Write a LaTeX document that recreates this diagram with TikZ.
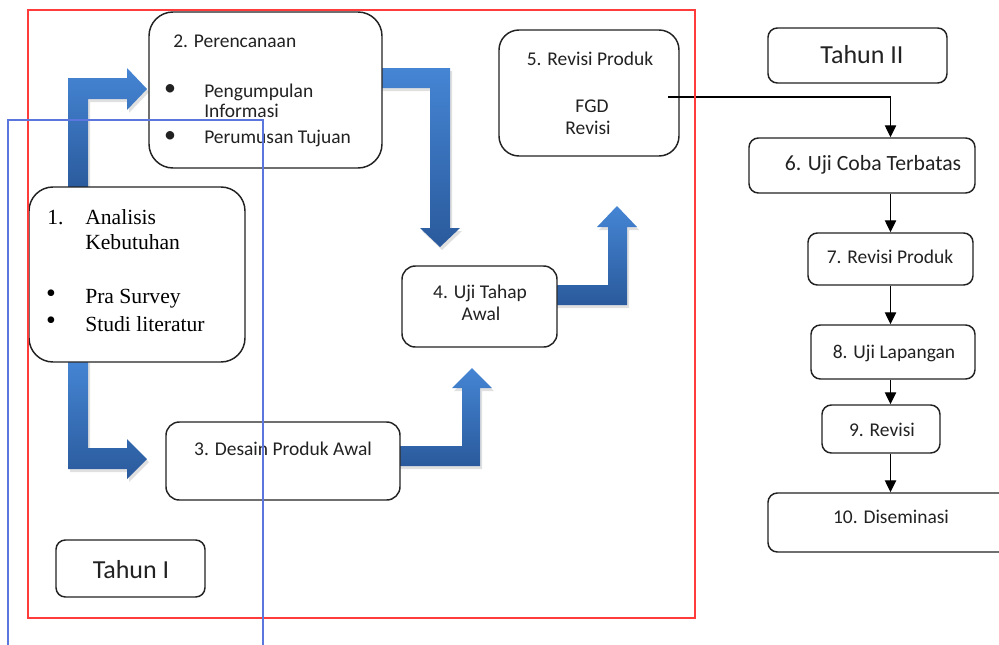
\documentclass[tikz,border=0pt]{standalone}
\usepackage{fontspec}
\setmainfont{Carlito}
\newfontfamily\seriffont{Liberation Serif}
\usetikzlibrary{fit,arrows.meta}
\definecolor{redline}{HTML}{FF3B3B}
\definecolor{blueline}{HTML}{5B77DD}
\definecolor{arrowtop}{HTML}{4585D4}
\definecolor{arrowbot}{HTML}{2A5A9C}
\definecolor{ink}{HTML}{222222}
\begin{document}
\begin{tikzpicture}[x=0.75pt,y=-0.75pt,
  box/.style={draw=ink, line width=1.1pt, fill=white, inner sep=0pt, rounded corners=#1},
  box/.default=8pt,
  txt/.style={inner sep=0pt, anchor=base, text=ink, font=\fontsize{14.6}{15}\selectfont},
  txtw/.style={txt, anchor=base west},
  big/.style={txt, font=\fontsize{19.5}{20}\selectfont},
  ser/.style={inner sep=0pt, anchor=base west, text=black, font=\seriffont\fontsize{16.2}{18}\selectfont},
  sbul/.style={inner sep=0pt, anchor=center, text=black, font=\seriffont\fontsize{21}{21}\selectfont},
  blk/.style={top color=arrowtop, bottom color=arrowbot},
  shadow/.style={fill=black, opacity=0.12},
  conn/.style={draw=black, line width=1pt, -{Triangle[length=9pt,width=8.5pt]}}
]
\useasboundingbox (0,0) rectangle (999,644);

% shadows of block arrows
\begin{scope}[shift={(2,3)}]
\fill[shadow] (68,190)--(68,78)--(127,78)--(127,68)--(147,89)--(127,110)--(127,99)--(88,99)--(88,190)--cycle;
\fill[shadow] (68,360)--(68,469)--(127,469)--(127,479)--(147,459)--(127,439)--(127,448)--(88,448)--(88,360)--cycle;
\fill[shadow] (380,68)--(450,68)--(450,228)--(460,228)--(440,247)--(420,228)--(430,228)--(430,88)--(380,88)--cycle;
\fill[shadow] (398,446)--(462,446)--(462,388)--(452,388)--(472,368)--(492,388)--(480,388)--(480,466)--(398,466)--cycle;
\fill[shadow] (555,285)--(608,285)--(608,227)--(597,227)--(617,206)--(637,227)--(627,227)--(627,305)--(555,305)--cycle;
\end{scope}
% block arrows
\shade[blk] (68,190)--(68,78)--(127,78)--(127,68)--(147,89)--(127,110)--(127,99)--(88,99)--(88,190)--cycle;
\shade[blk] (68,360)--(68,469)--(127,469)--(127,479)--(147,459)--(127,439)--(127,448)--(88,448)--(88,360)--cycle;
\shade[blk] (380,68)--(450,68)--(450,228)--(460,228)--(440,247)--(420,228)--(430,228)--(430,88)--(380,88)--cycle;
\shade[blk] (398,446)--(462,446)--(462,388)--(452,388)--(472,368)--(492,388)--(480,388)--(480,466)--(398,466)--cycle;
\shade[blk] (555,285)--(608,285)--(608,227)--(597,227)--(617,206)--(637,227)--(627,227)--(627,305)--(555,305)--cycle;

% boxes
\node[box=18pt, fit={(29,187) (245,362)}] (b1) {};
\node[box=18pt, fit={(149,12) (382,168)}] (b2) {};
\node[box=10pt, fit={(166,422) (400,500)}] (b3) {};
\node[box=10pt, fit={(402,266) (557,347)}] (b4) {};
\node[box=15pt, fit={(499,30) (679,156)}] (b5) {};
\node[box=7pt, fit={(56,540) (205,597)}] (t1) {};
\node[box=7pt, fit={(768,28) (947,83)}] (t2) {};
\node[box=7pt, fit={(749,138) (975,193)}] (b6) {};
\node[box=7pt, fit={(808,233) (973,285)}] (b7) {};
\node[box=7pt, fit={(811,325) (975,379)}] (b8) {};
\node[box=7pt, fit={(822,405) (940,453)}] (b9) {};
\node[box=7pt, fit={(768,493) (1012,552)}] (b10) {};

% texts box 1
\node[ser] (l1n) at (47,224) {1.};
\node[ser] (l1a) at (85,224) {Analisis};
\node[ser] (l1b) at (85,249) {Kebutuhan};
\node[sbul] (l1d1) at (51,296) {•};
\node[ser] (l1c) at (85,303) {Pra Survey};
\node[sbul] (l1d2) at (51,323) {•};
\node[ser] (l1e) at (85,331) {Studi literatur};

% texts box 2
\node[txtw] (l2a) at (173,47) {2. Perencanaan};
\node[txt, anchor=center, font=\fontsize{18}{18}\selectfont] (l2d1) at (170,90) {•};
\node[txtw] (l2b) at (204,97) {Pengumpulan};
\node[txtw] (l2c) at (204,117) {Informasi};
\node[txt, anchor=center, font=\fontsize{18}{18}\selectfont] (l2d2) at (170,137) {•};
\node[txtw] (l2e) at (204,143) {Perumusan Tujuan};

% other texts
\node[txt] (l3) at (283,455) {3. Desain Produk Awal};
\node[txt] (l4a) at (480,298) {4. Uji Tahap};
\node[txt] (l4b) at (481,320) {Awal};
\node[txt] (l5a) at (590,65) {5. Revisi Produk};
\node[txt] (l5b) at (592,112) {FGD};
\node[txt] (l5c) at (588,134) {Revisi};
\node[big] (lt1) at (131,578) {Tahun I};
\node[big] (lt2) at (862,63) {Tahun II};
\node[txt, font=\fontsize{16.3}{17}\selectfont] (l6) at (873,170) {6. Uji Coba Terbatas};
\node[txt] (l7) at (890,263) {7. Revisi Produk};
\node[txt] (l8) at (894,358) {8. Uji Lapangan};
\node[txt] (l9) at (882,436) {9. Revisi};
\node[txt] (l10) at (891,523) {10. Diseminasi};

% connectors
\coordinate (c5) at (668,97);
\draw[conn] (c5) -| (b6.north -| b7.north);
\draw[conn] (b6.south -| b7.north) -- (b7.north);
\draw[conn] (b7.south) -- (b8.north -| b7.south);
\draw[conn] (b8.south -| b7.south) -- (b9.north -| b7.south);
\draw[conn] (b9.south -| b7.south) -- (b10.north -| b7.south);

% frames
\draw[redline, line width=1.2pt] (28,10) rectangle (695,618);
\draw[blueline, line width=1.1pt] (8,660) -- (8,120) -- (263,120) -- (263,660);
\end{tikzpicture}
\end{document}
